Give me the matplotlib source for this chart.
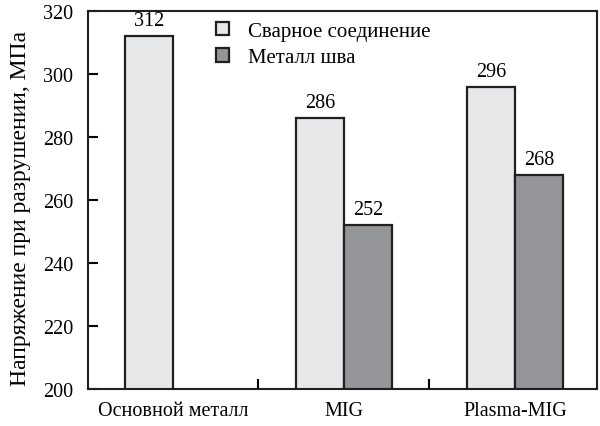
import numpy as np
import matplotlib.pyplot as plt
from matplotlib.patches import Patch

# ============================================================
# DATA
# ============================================================
categories = ["Основной металл", "MIG", "Plasma-MIG"]
weld_joint = [312, 286, 296]          # Сварное соединение
weld_metal = [np.nan, 252, 268]       # Металл шва
series_names = ["Сварное соединение", "Металл шва"]
y_ticks = [200, 220, 240, 260, 280, 300, 320]

# ============================================================
# STYLE
# ============================================================
plt.rcParams['font.family'] = ['Liberation Serif', 'DejaVu Serif']
c_light = "#e6e7e9"
c_dark = "#949598"
edge = "#231f20"
w = 0.28

fig = plt.figure(figsize=(6, 4.27), dpi=100)
ax = fig.add_axes([0.147, 0.087, 0.848, 0.885])

x = np.arange(len(categories))
ax.bar(x - w/2, weld_joint, w, color=c_light, edgecolor=edge, linewidth=1.6, zorder=2)
ax.bar(x + w/2, weld_metal, w, color=c_dark, edgecolor=edge, linewidth=1.6, zorder=2)

for xi, v in zip(x - w/2, weld_joint):
    ax.text(xi, v + 1.8, f"{v:g}", ha="center", va="bottom", fontsize=14.5)
for xi, v in zip(x + w/2, weld_metal):
    if not np.isnan(v):
        ax.text(xi, v + 1.8, f"{v:g}", ha="center", va="bottom", fontsize=14.5)

ax.set_ylim(200, 320)
ax.set_xlim(-0.495, 2.48)
ax.set_yticks(y_ticks)
ax.set_yticklabels([str(t) for t in y_ticks], fontsize=14.5)
ax.tick_params(axis="y", direction="in", length=7, width=1.5, pad=11)

ax.set_xticks(x)
ax.set_xticklabels(categories, fontsize=14.5)
ax.tick_params(axis="x", which="major", length=0, pad=9)
ax.set_xticks((x[:-1] + x[1:]) / 2, minor=True)
ax.tick_params(axis="x", which="minor", direction="in", length=7, width=1.5)

for s in ax.spines.values():
    s.set_linewidth(1.5)
    s.set_color(edge)

ax.set_ylabel("Напряжение при разрушении, МПа", fontsize=17)
ax.yaxis.set_label_coords(-0.112, 0.48)

handles = [Patch(facecolor=c_light, edgecolor=edge, linewidth=1.6),
           Patch(facecolor=c_dark, edgecolor=edge, linewidth=1.6)]
ax.legend(handles, series_names, loc="upper left", bbox_to_anchor=(0.215, 1.02),
          frameon=False, fontsize=15, handlelength=0.6, handleheight=0.6,
          handletextpad=0.9, labelspacing=0.35)

fig.savefig("out.png", dpi=100)
